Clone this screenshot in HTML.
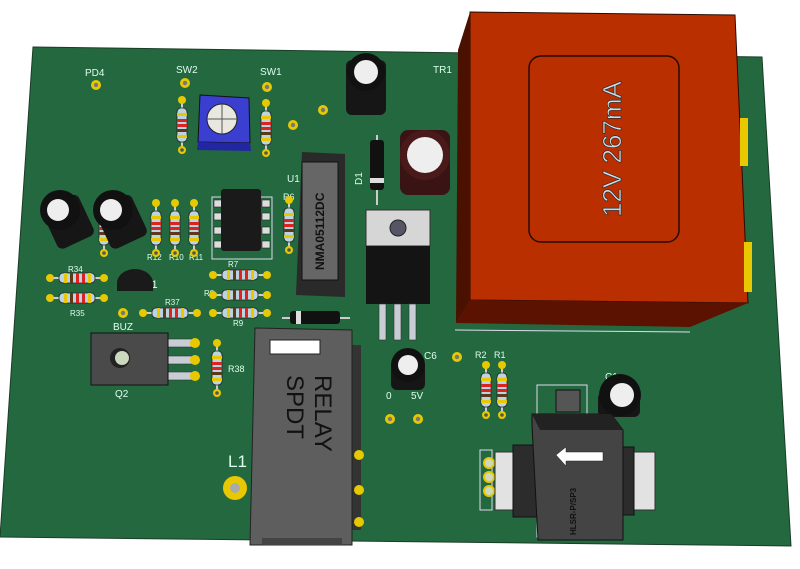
<!DOCTYPE html>
<html><head><meta charset="utf-8"><style>
html,body{margin:0;padding:0;background:#fff;}
svg{display:block;}
text{font-family:"Liberation Sans",sans-serif;}
</style></head><body>
<svg width="800" height="569" viewBox="0 0 800 569" xmlns="http://www.w3.org/2000/svg">
<defs>
<g id="resV"><line x1="0" y1="-24" x2="0" y2="24" stroke="#ccc" stroke-width="2"/><rect x="-5" y="-17" width="10" height="34" rx="4" fill="#bcd3e0" stroke="#222" stroke-width="0.8"/><rect x="-5" y="-12" width="10" height="3" fill="#e8c800"/><rect x="-5" y="-6" width="10" height="3" fill="#d22"/><rect x="-5" y="-1" width="10" height="3" fill="#d22"/><rect x="-5" y="4" width="10" height="3" fill="#5a3a1a"/><rect x="-5" y="10" width="10" height="3" fill="#e8c800"/><circle cx="0" cy="-25" r="4" fill="#e8c800"/><circle cx="0" cy="25" r="4" fill="#e8c800"/><circle cx="0" cy="25" r="1.8" fill="#555"/></g>
<g id="resH"><line x1="-26" y1="0" x2="26" y2="0" stroke="#ccc" stroke-width="2"/><rect x="-18" y="-5" width="36" height="10" rx="4" fill="#bcd3e0" stroke="#222" stroke-width="0.8"/><rect x="-13" y="-5" width="3" height="10" fill="#e8c800"/><rect x="-7" y="-5" width="3" height="10" fill="#5a3a1a"/><rect x="-1" y="-5" width="3" height="10" fill="#d22"/><rect x="5" y="-5" width="3" height="10" fill="#d22"/><rect x="11" y="-5" width="3" height="10" fill="#e8c800"/><circle cx="-27" cy="0" r="4" fill="#e8c800"/><circle cx="27" cy="0" r="4" fill="#e8c800"/></g>
<g id="pad"><circle r="5" fill="#e8c800"/><circle r="2.2" fill="#777"/></g>
</defs>
<!-- board -->
<polygon points="33,47 762,57 791,546 0,537" fill="#24683f" stroke="#1a3d26" stroke-width="1"/>
<!-- labels -->
<g fill="#dfe" font-size="10">
<text x="85" y="76">PD4</text><text x="176" y="73">SW2</text><text x="260" y="75">SW1</text>
<text x="433" y="73">TR1</text><text x="183" y="383" font-size="9"></text>
<text x="113" y="330">BUZ</text><text x="115" y="397">Q2</text><text x="228" y="372" font-size="9">R38</text>
<text x="68" y="272" font-size="8">R34</text><text x="70" y="316" font-size="8">R35</text><text x="165" y="305" font-size="8">R37</text>
<text x="228" y="267" font-size="8">R7</text><text x="204" y="296" font-size="8">R8</text><text x="233" y="326" font-size="8">R9</text>
<text x="147" y="260" font-size="8">R12</text><text x="169" y="260" font-size="8">R10</text><text x="189" y="260" font-size="8">R11</text>
<text x="143" y="288" font-size="11">Q1</text><text x="283" y="200" font-size="9">R6</text><text x="287" y="182" font-size="10">U1</text>
<text x="475" y="358" font-size="9">R2</text><text x="494" y="358" font-size="9">R1</text><text x="605" y="380" font-size="10">C1</text>
<text x="386" y="399" font-size="10">0</text><text x="411" y="399" font-size="10">5V</text><text x="424" y="359" font-size="10">C6</text>
<text x="228" y="467" font-size="17">L1</text>
</g>
<use href="#pad" x="96" y="85"/><use href="#pad" x="185" y="83"/><use href="#pad" x="267" y="87"/>
<use href="#pad" x="323" y="110"/><use href="#pad" x="293" y="125"/><use href="#pad" x="123" y="313"/>
<use href="#pad" x="390" y="419"/><use href="#pad" x="418" y="419"/><use href="#pad" x="457" y="357"/>
<circle cx="235" cy="488" r="12" fill="#e8c800"/><circle cx="235" cy="488" r="5" fill="#aaa"/>
<!-- resistors -->
<use href="#resV" x="182" y="125"/><use href="#resV" x="266" y="128"/>
<use href="#resV" x="156" y="228"/><use href="#resV" x="175" y="228"/><use href="#resV" x="194" y="228"/>
<use href="#resV" x="289" y="225"/><use href="#resV" x="104" y="228"/>
<use href="#resH" x="77" y="278"/><use href="#resH" x="77" y="298"/><use href="#resH" x="170" y="313"/>
<use href="#resH" x="240" y="275"/><use href="#resH" x="240" y="295"/><use href="#resH" x="240" y="313"/>
<use href="#resV" x="217" y="368"/><use href="#resV" x="486" y="390"/><use href="#resV" x="502" y="390"/>
<!-- pot -->
<polygon points="200,95 249,98 250,143 198,142" fill="#3a3fd0" stroke="#111"/>
<polygon points="198,142 250,143 251,151 197,150" fill="#2226a0"/>
<circle cx="222" cy="119" r="15" fill="#e8e8e0" stroke="#222"/><line x1="207" y1="119" x2="237" y2="119" stroke="#555"/><line x1="222" y1="104" x2="222" y2="134" stroke="#555"/>
<!-- big black caps -->
<g><rect x="346" y="60" width="40" height="55" rx="6" fill="#161616"/><circle cx="366" cy="72" r="19" fill="#111"/><circle cx="366" cy="72" r="12" fill="#eee"/></g>
<g><rect x="400" y="130" width="50" height="65" rx="8" fill="#3a1414"/><circle cx="425" cy="155" r="25" fill="#4a1a1a"/><circle cx="425" cy="155" r="18" fill="#eee"/></g>
<g transform="rotate(-25 65 215)"><rect x="45" y="200" width="40" height="45" rx="6" fill="#161616"/></g><circle cx="60" cy="210" r="20" fill="#111"/><circle cx="58" cy="210" r="11" fill="#eee"/>
<g transform="rotate(-25 118 215)"><rect x="98" y="200" width="40" height="45" rx="6" fill="#161616"/></g><circle cx="113" cy="210" r="20" fill="#111"/><circle cx="111" cy="210" r="11" fill="#eee"/>
<g><rect x="391" y="360" width="34" height="30" rx="6" fill="#161616"/><circle cx="408" cy="365" r="17" fill="#111"/><circle cx="408" cy="365" r="10" fill="#eee"/></g>
<g><rect x="598" y="392" width="42" height="25" rx="6" fill="#161616"/><circle cx="620" cy="395" r="21" fill="#111"/><circle cx="622" cy="395" r="12" fill="#eee"/></g>
<!-- Q1 -->
<path d="M117,283 a18,14 0 0 1 36,0 v8 h-36 z" fill="#1a1a1a"/>
<!-- U2 -->
<rect x="212" y="197" width="60" height="62" fill="none" stroke="#dde" stroke-width="1"/>
<g fill="#ddd" stroke="#222" stroke-width="0.6"><rect x="214" y="200" width="8" height="7"/><rect x="214" y="213" width="8" height="7"/><rect x="214" y="227" width="8" height="7"/><rect x="214" y="241" width="8" height="7"/>
<rect x="262" y="200" width="8" height="7"/><rect x="262" y="213" width="8" height="7"/><rect x="262" y="227" width="8" height="7"/><rect x="262" y="241" width="8" height="7"/></g>
<rect x="221" y="189" width="40" height="62" rx="3" fill="#1a1a1a"/>
<!-- NMA -->
<polygon points="302,152 345,154 345,297 296,295" fill="#2a2a2a"/>
<rect x="302" y="162" width="36" height="118" fill="#666" stroke="#111"/>
<text transform="translate(324,270) rotate(-90)" font-size="12" font-weight="bold" fill="#111">NMA05112DC</text>
<!-- D1 -->
<line x1="377" y1="135" x2="377" y2="205" stroke="#ccc" stroke-width="2"/><rect x="370" y="140" width="14" height="50" rx="3" fill="#111"/><rect x="370" y="178" width="14" height="5" fill="#ddd"/>
<text transform="translate(362,185) rotate(-90)" font-size="10" fill="#dfe">D1</text>
<!-- D11 -->
<line x1="282" y1="318" x2="350" y2="318" stroke="#ccc" stroke-width="2"/><rect x="290" y="311" width="50" height="13" rx="3" fill="#111"/><rect x="296" y="311" width="5" height="13" fill="#ddd"/>
<!-- regulator -->
<rect x="366" y="210" width="64" height="36" fill="#d6d6d6" stroke="#333"/><circle cx="398" cy="228" r="8" fill="#556" stroke="#222"/>
<rect x="366" y="246" width="64" height="58" fill="#141414"/>
<g fill="#c8ccd4" stroke="#333" stroke-width="0.6"><rect x="379" y="304" width="7" height="36"/><rect x="394" y="304" width="7" height="36"/><rect x="409" y="304" width="7" height="36"/></g>
<!-- transformer -->
<polygon points="470,12 735,15 748,303 470,300" fill="#b92f00" stroke="#2a0a00"/>
<polygon points="470,12 458,50 456,323 470,300" fill="#4a1000"/>
<polygon points="456,323 690,327 748,303 470,300" fill="#5c1200"/>
<rect x="529" y="56" width="150" height="186" rx="12" fill="#b92f00" stroke="#2a0a00" stroke-width="1.5"/>
<text transform="translate(621,217) rotate(-90)" font-size="26" fill="#c8dce8" stroke="#222" stroke-width="0.6">12V 267mA</text>
<rect x="740" y="118" width="8" height="48" fill="#e8c800"/><rect x="744" y="242" width="8" height="50" fill="#e8c800"/>
<line x1="455" y1="330" x2="690" y2="332" stroke="#dde" stroke-width="1"/>
<!-- Q2 -->
<g fill="#c8ccd4" stroke="#333" stroke-width="0.6"><rect x="166" y="339" width="30" height="8"/><rect x="166" y="356" width="30" height="8"/><rect x="166" y="372" width="30" height="8"/></g>
<circle cx="195" cy="343" r="5" fill="#e8c800"/><circle cx="195" cy="360" r="5" fill="#e8c800"/><circle cx="195" cy="376" r="5" fill="#e8c800"/>
<rect x="91" y="333" width="77" height="52" fill="#4a4a4a" stroke="#111"/><circle cx="120" cy="358" r="10" fill="#222"/><circle cx="122" cy="358" r="7" fill="#cdd8c0"/>
<!-- relay -->
<rect x="352" y="345" width="9" height="185" fill="#333"/>
<circle cx="359" cy="455" r="5" fill="#e8c800"/><circle cx="359" cy="490" r="5" fill="#e8c800"/><circle cx="359" cy="522" r="5" fill="#e8c800"/>
<polygon points="255,328 352,330 352,545 250,545" fill="#5e5e5e" stroke="#222"/>
<rect x="270" y="340" width="50" height="14" fill="#fff" stroke="#222"/>
<rect x="262" y="538" width="80" height="7" fill="#444"/>
<text transform="translate(315,375) rotate(90)" font-size="24" fill="#111">RELAY</text>
<text transform="translate(287,375) rotate(90)" font-size="24" fill="#111">SPDT</text>
<!-- right component -->
<rect x="537" y="385" width="50" height="152" fill="none" stroke="#dde"/>
<rect x="480" y="450" width="12" height="60" fill="none" stroke="#dde"/>
<circle cx="489" cy="463" r="5" fill="#cdd8c0" stroke="#e8c800" stroke-width="2"/><circle cx="489" cy="477" r="5" fill="#cdd8c0" stroke="#e8c800" stroke-width="2"/><circle cx="489" cy="491" r="5" fill="#cdd8c0" stroke="#e8c800" stroke-width="2"/>
<rect x="556" y="390" width="24" height="22" fill="#555" stroke="#111"/>
<rect x="495" y="452" width="40" height="58" fill="#e2e2e2" stroke="#333"/>
<rect x="625" y="452" width="30" height="58" fill="#e2e2e2" stroke="#333"/>
<rect x="482" y="445" width="160" height="5" fill="none"/>
<rect x="513" y="445" width="24" height="72" fill="#2c2c2c" stroke="#111"/>
<rect x="620" y="447" width="14" height="68" fill="#2c2c2c" stroke="#111"/>
<polygon points="532,414 611,414 623,430 623,540 538,540 532,425" fill="#444" stroke="#111"/>
<polygon points="532,414 611,414 623,430 540,430" fill="#222"/>
<polygon points="556,455 566,447 566,452 603,452 603,461 566,461 566,466" fill="#fff" stroke="#222" stroke-width="0.5"/>
<text transform="translate(576,535) rotate(-90)" font-size="8" font-weight="bold" fill="#111">HLSR-P/SP3</text>
</svg>
</body></html>
